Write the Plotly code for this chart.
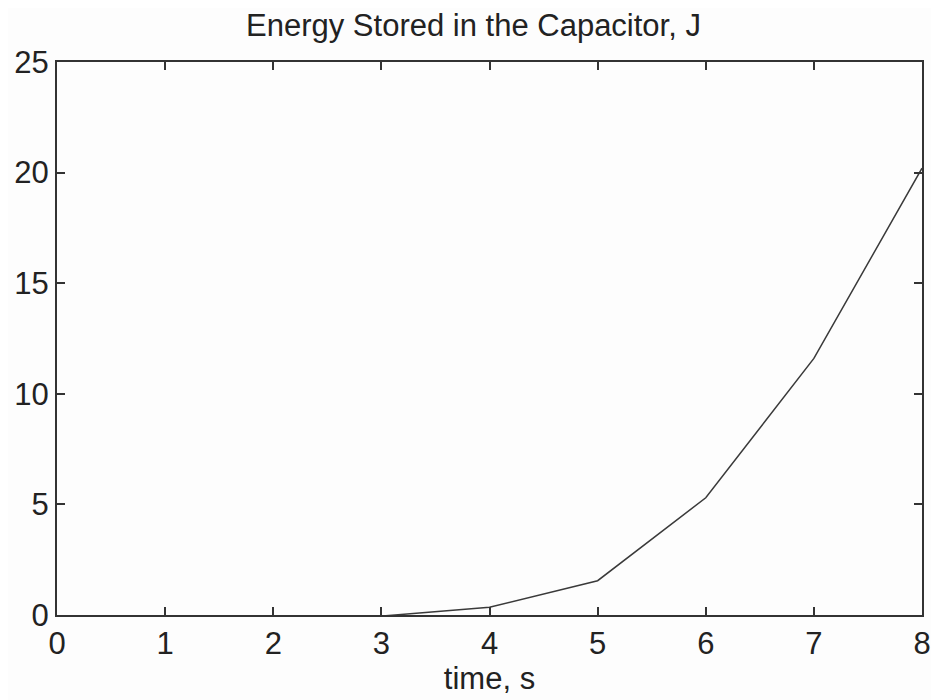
import plotly.graph_objects as go

time_s = [3, 4, 5, 6, 7, 8]
energy_J = [-0.05, 0.35, 1.55, 5.3, 11.6, 20.2]
x_ticks = [0, 1, 2, 3, 4, 5, 6, 7, 8]
y_ticks = [0, 5, 10, 15, 20, 25]

FONT = "Liberation Sans, Arial, sans-serif"
FS = 31

fig = go.Figure()
fig.add_trace(go.Scatter(x=time_s, y=energy_J, mode="lines",
                         line=dict(color="#3a3a3a", width=1.5),
                         showlegend=False, hoverinfo="skip"))

axis_common = dict(showgrid=False, zeroline=False, showline=True, linecolor="#333333",
                   linewidth=2, mirror="ticks", ticks="inside", ticklen=8,
                   tickwidth=1.5, tickcolor="#333333", automargin=False,
                   tickfont=dict(family=FONT, size=FS, color="#222222"))

fig.update_xaxes(range=[0, 8], tickvals=x_ticks, ticktext=[str(v) for v in x_ticks],
                 title=dict(text="time, s", font=dict(family=FONT, size=FS, color="#222222"),
                            standoff=3),
                 **axis_common)
fig.update_yaxes(range=[0, 25], tickvals=y_ticks, ticktext=[str(v) for v in y_ticks],
                 **axis_common)

fig.update_layout(
    width=931, height=692,
    margin=dict(l=49, r=17, t=54, b=85),
    paper_bgcolor="#fdfdfd", plot_bgcolor="#fdfdfd",
    title=dict(text="Energy Stored in the Capacitor, J", x=0.5, xanchor="center",
               y=0.975, yanchor="middle", automargin=False,
               font=dict(family=FONT, size=FS, color="#222222")),
)

fig.write_html("out.html")
